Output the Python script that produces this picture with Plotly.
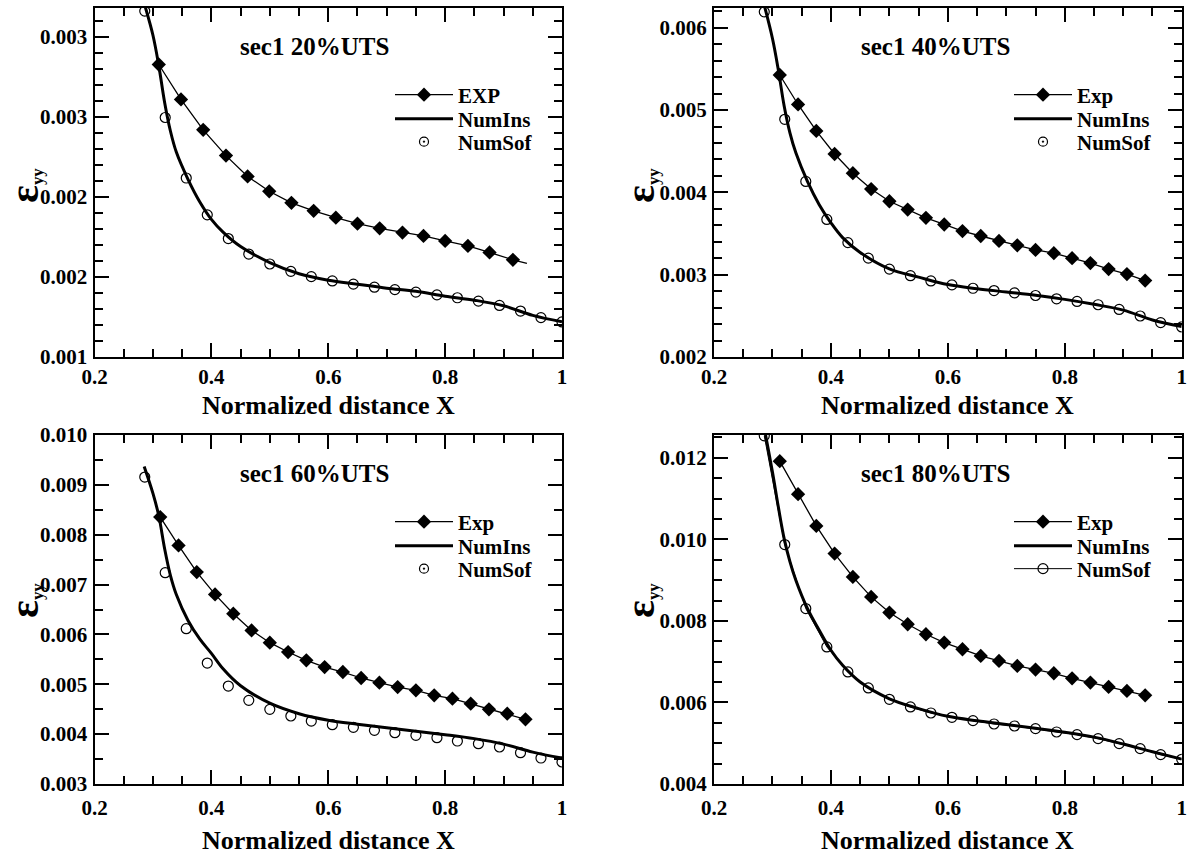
import plotly.graph_objects as go

# ---------------- data ----------------
# NumSof sample positions (shared by all four load levels)
SOF_X = [0.286, 0.321, 0.357, 0.393, 0.429, 0.464, 0.500, 0.536, 0.571, 0.607, 0.643,
         0.679, 0.714, 0.750, 0.786, 0.821, 0.857, 0.893, 0.929, 0.964, 1.000]
# NumIns curve positions
INS_X = [0.285, 0.30, 0.31, 0.32, 0.33, 0.34, 0.36, 0.38, 0.40, 0.42, 0.45, 0.50,
         0.55, 0.60, 0.65, 0.70, 0.75, 0.80, 0.85, 0.90, 0.95, 1.00]
# Experimental positions (40/60/80 %UTS)
EXP_X = [0.3125, 0.3438, 0.3750, 0.4063, 0.4375, 0.4688, 0.5000, 0.5313, 0.5625, 0.5938,
         0.6250, 0.6563, 0.6875, 0.7188, 0.7500, 0.7813, 0.8125, 0.8438, 0.8750, 0.9063, 0.9375]

# 20 %UTS
EXP20_X = [0.310, 0.348, 0.386, 0.425, 0.462, 0.499, 0.537, 0.575, 0.613, 0.650, 0.688,
           0.727, 0.763, 0.800, 0.839, 0.876, 0.916]
EXP20_Y = [0.002827, 0.002609, 0.002419, 0.002258, 0.002128, 0.002035, 0.001963, 0.001913,
           0.001870, 0.001833, 0.001804, 0.001777, 0.001756, 0.001725, 0.001694, 0.001653,
           0.001607]
EXP20_TAIL_X = [0.916, 0.940]
EXP20_TAIL_Y = [0.001607, 0.001585]
INS20_Y = [0.00321, 0.00301, 0.00282, 0.00259, 0.00241, 0.00228, 0.00211, 0.00197, 0.00186,
           0.00178, 0.00169, 0.00159, 0.00152, 0.00148, 0.001455, 0.00143, 0.00141, 0.00138,
           0.001355, 0.00132, 0.00126, 0.00122]
SOF20_Y = [0.003161, 0.002496, 0.002118, 0.001888, 0.001740, 0.001643, 0.001581, 0.001535,
           0.001502, 0.001475, 0.001455, 0.001436, 0.001421, 0.001405, 0.001388, 0.001370,
           0.001349, 0.001322, 0.001287, 0.001246, 0.001219]

# 40 %UTS
EXP40_Y = [0.005426, 0.005068, 0.004747, 0.004466, 0.004233, 0.004040, 0.003892, 0.003791,
           0.003691, 0.003610, 0.003530, 0.003470, 0.003410, 0.003357, 0.003301, 0.003261,
           0.003201, 0.003141, 0.003068, 0.003008, 0.002928]
INS40_Y = [0.00630, 0.00587, 0.00549, 0.00505, 0.00472, 0.00448, 0.00413, 0.00385, 0.00363,
           0.00345, 0.00327, 0.00307, 0.00297, 0.00288, 0.00283, 0.00279, 0.00275, 0.00270,
           0.00264, 0.00257, 0.00245, 0.00237]
SOF40_Y = [0.006193, 0.004888, 0.004133, 0.003671, 0.003390, 0.003201, 0.003068, 0.002988,
           0.002924, 0.002876, 0.002835, 0.002807, 0.002779, 0.002747, 0.002707, 0.002675,
           0.002635, 0.002578, 0.002498, 0.002418, 0.002365]

# 60 %UTS
EXP60_Y = [0.008354, 0.007786, 0.007251, 0.006803, 0.006416, 0.006081, 0.005834, 0.005647,
           0.005480, 0.005346, 0.005246, 0.005126, 0.005032, 0.004945, 0.004878, 0.004778,
           0.004711, 0.004611, 0.004497, 0.004410, 0.004297]
INS60_Y = [0.00937, 0.00883, 0.00838, 0.00772, 0.00718, 0.00680, 0.00628, 0.00591, 0.00562,
           0.00531, 0.00497, 0.00462, 0.00441, 0.00428, 0.00420, 0.00413, 0.00406, 0.00399,
           0.00391, 0.00380, 0.00364, 0.00352]
SOF60_Y = [0.009156, 0.007238, 0.006115, 0.005426, 0.004965, 0.004678, 0.004497, 0.004364,
           0.004263, 0.004190, 0.004136, 0.004076, 0.004029, 0.003976, 0.003929, 0.003862,
           0.003809, 0.003742, 0.003628, 0.003521, 0.003441]

# 80 %UTS
EXP80_Y = [0.011918, 0.011108, 0.010331, 0.009652, 0.009080, 0.008589, 0.008205, 0.007918,
           0.007673, 0.007468, 0.007305, 0.007141, 0.007018, 0.006896, 0.006806, 0.006716,
           0.006593, 0.006487, 0.006380, 0.006282, 0.006176]
INS80_Y = [0.01280, 0.01165, 0.01080, 0.01002, 0.00945, 0.00900, 0.00830, 0.00777, 0.00728,
           0.00691, 0.00650, 0.00609, 0.00585, 0.00566, 0.00555, 0.00546, 0.00537, 0.00527,
           0.00515, 0.00498, 0.00479, 0.00461]
SOF80_Y = [0.012540, 0.009873, 0.008303, 0.007362, 0.006748, 0.006356, 0.006078, 0.005890,
           0.005742, 0.005636, 0.005554, 0.005472, 0.005423, 0.005358, 0.005276, 0.005211,
           0.005112, 0.004990, 0.004867, 0.004720, 0.004605]

TITLES = ["sec1 20%UTS", "sec1 40%UTS", "sec1 60%UTS", "sec1 80%UTS"]
EXP_NAMES = ["EXP", "Exp", "Exp", "Exp"]
X_TITLE = "Normalized distance X"
Y_TITLE = "<span style='font-size:42px'>ε</span><sub>yy</sub>"

Y_RANGES = [[0.001, 0.00318], [0.002, 0.00624], [0.003, 0.010], [0.004, 0.01256]]
Y20_TICKVALS = [0.001, 0.0015, 0.002, 0.0025, 0.003]
Y20_TICKTEXT = ["0.001", "0.002", "0.002", "0.003", "0.003"]

# ---------------- layout geometry ----------------
W, H = 1193, 854
FONT = "Liberation Serif"
X_DOM = [[94.5 / W, 562 / W], [714 / W, 1181.7 / W]]
Y_DOM = [[1 - 357 / H, 1 - 8 / H], [1 - 784 / H, 1 - 435 / H]]
LEGEND_ROWS = [[95, 119, 142], [522, 546, 569]]   # row centres (px from top)
LEGEND_LEFT = [390, 1009]                           # legend box left (px)

panels = [
    dict(exp_x=EXP20_X, exp_y=EXP20_Y, ins=INS20_Y, sof=SOF20_Y, col=0, row=0),
    dict(exp_x=EXP_X, exp_y=EXP40_Y, ins=INS40_Y, sof=SOF40_Y, col=1, row=0),
    dict(exp_x=EXP_X, exp_y=EXP60_Y, ins=INS60_Y, sof=SOF60_Y, col=0, row=1),
    dict(exp_x=EXP_X, exp_y=EXP80_Y, ins=INS80_Y, sof=SOF80_Y, col=1, row=1),
]


def legend_name(k):
    return "legend" if k == 1 else f"legend{k}"


fig = go.Figure()
annotations = []
layout = {}

for i, p in enumerate(panels):
    n = i + 1
    xa, ya = f"x{n}", f"y{n}"
    legs = [legend_name(3 * i + j + 1) for j in range(3)]

    # Experimental data: thin line with filled diamonds
    fig.add_trace(go.Scatter(
        x=p["exp_x"], y=p["exp_y"], mode="lines+markers", name=EXP_NAMES[i],
        line=dict(color="black", width=1.3),
        marker=dict(symbol="diamond", size=11, color="black"),
        xaxis=xa, yaxis=ya, legend=legs[0]))
    if n == 1:
        fig.add_trace(go.Scatter(
            x=EXP20_TAIL_X, y=EXP20_TAIL_Y, mode="lines", showlegend=False,
            line=dict(color="black", width=1.3), xaxis=xa, yaxis=ya))

    # NumIns: thick solid curve
    fig.add_trace(go.Scatter(
        x=INS_X, y=p["ins"], mode="lines", name="NumIns",
        line=dict(color="black", width=3, shape="spline", smoothing=1.0),
        xaxis=xa, yaxis=ya, legend=legs[1]))

    # NumSof: open circles
    if n == 4:
        fig.add_trace(go.Scatter(
            x=SOF_X, y=p["sof"], mode="lines+markers", name="NumSof",
            line=dict(color="black", width=1),
            marker=dict(symbol="circle-open", size=10, color="black", line=dict(width=1.2)),
            xaxis=xa, yaxis=ya, legend=legs[2]))
    else:
        fig.add_trace(go.Scatter(
            x=SOF_X, y=p["sof"], mode="markers", name="NumSof", showlegend=False,
            marker=dict(symbol="circle-open", size=10, color="black", line=dict(width=1.2)),
            xaxis=xa, yaxis=ya))
        fig.add_trace(go.Scatter(
            x=[None], y=[None], mode="markers", name="NumSof",
            marker=dict(symbol="circle-open-dot", size=9, color="black", line=dict(width=1.2)),
            xaxis=xa, yaxis=ya, legend=legs[2]))

    xd, yd = X_DOM[p["col"]], Y_DOM[p["row"]]
    common = dict(
        showline=True, linecolor="black", linewidth=2, mirror="ticks",
        ticks="inside", ticklen=14, tickwidth=2, tickcolor="black",
        showgrid=False, zeroline=False, automargin=False,
        tickfont=dict(family=FONT, size=21, color="black", weight="bold"),
    )
    xkey = "xaxis" if n == 1 else f"xaxis{n}"
    ykey = "yaxis" if n == 1 else f"yaxis{n}"
    layout[xkey] = dict(
        common, domain=xd, anchor=ya, range=[0.2, 1.0],
        tickmode="linear", tick0=0.2, dtick=0.2, ticklabelstandoff=0 if p["row"] == 0 else 4,
        minor=dict(ticks="inside", ticklen=8, tickwidth=1.6, tickcolor="black",
                   tickmode="linear", tick0=0.2, dtick=0.05, showgrid=False),
    )
    if n == 1:
        ymajor = dict(tickmode="array", tickvals=Y20_TICKVALS, ticktext=Y20_TICKTEXT)
        yminor = dict(tick0=0.001, dtick=0.0001)
    elif n == 2:
        ymajor = dict(tickmode="linear", tick0=0.002, dtick=0.001, tickformat=".3f")
        yminor = dict(tick0=0.002, dtick=0.0002)
    elif n == 3:
        ymajor = dict(tickmode="linear", tick0=0.003, dtick=0.001, tickformat=".3f")
        yminor = dict(tick0=0.003, dtick=0.0005)
    else:
        ymajor = dict(tickmode="linear", tick0=0.004, dtick=0.002, tickformat=".3f")
        yminor = dict(tick0=0.004, dtick=0.0005)
    layout[ykey] = dict(
        common, domain=yd, anchor=xa, range=Y_RANGES[i], ticklabelstandoff=1, **ymajor,
        minor=dict(ticks="inside", ticklen=8, tickwidth=1.6, tickcolor="black",
                   tickmode="linear", showgrid=False, **yminor),
    )

    # one single-entry legend per row so the rows sit tight together
    for j, leg in enumerate(legs):
        layout[leg] = dict(
            x=LEGEND_LEFT[p["col"]] / W, y=1 - LEGEND_ROWS[p["row"]][j] / H,
            xanchor="left", yanchor="middle", bgcolor="rgba(0,0,0,0)",
            borderwidth=0, itemwidth=58,
            font=dict(family=FONT, size=21, color="black", weight="bold"),
        )

    # panel title
    tx = (315 if p["col"] == 0 else 935) / W
    ty = 1 - (47 if p["row"] == 0 else 474) / H
    annotations.append(dict(
        text=TITLES[i], x=tx, y=ty, xref="paper", yref="paper", showarrow=False,
        xanchor="center", yanchor="middle",
        font=dict(family=FONT, size=25, color="black", weight="bold")))

    # axis titles
    cx = (xd[0] + xd[1]) / 2
    annotations.append(dict(
        text=X_TITLE, x=cx, y=1 - (405 if p["row"] == 0 else 840) / H,
        xref="paper", yref="paper", showarrow=False, xanchor="center", yanchor="middle",
        font=dict(family=FONT, size=26, color="black", weight="bold")))
    annotations.append(dict(
        text=Y_TITLE, x=(24 if p["col"] == 0 else 640) / W,
        y=1 - (186 if p["row"] == 0 else 601) / H,
        xref="paper", yref="paper", showarrow=False, textangle=-90,
        xanchor="center", yanchor="middle",
        font=dict(family=FONT, size=24, color="black", weight="bold")))

fig.update_layout(
    width=W, height=H, margin=dict(l=0, r=0, t=0, b=0),
    paper_bgcolor="white", plot_bgcolor="white",
    annotations=annotations, **layout,
)

fig.write_html("out.html")
